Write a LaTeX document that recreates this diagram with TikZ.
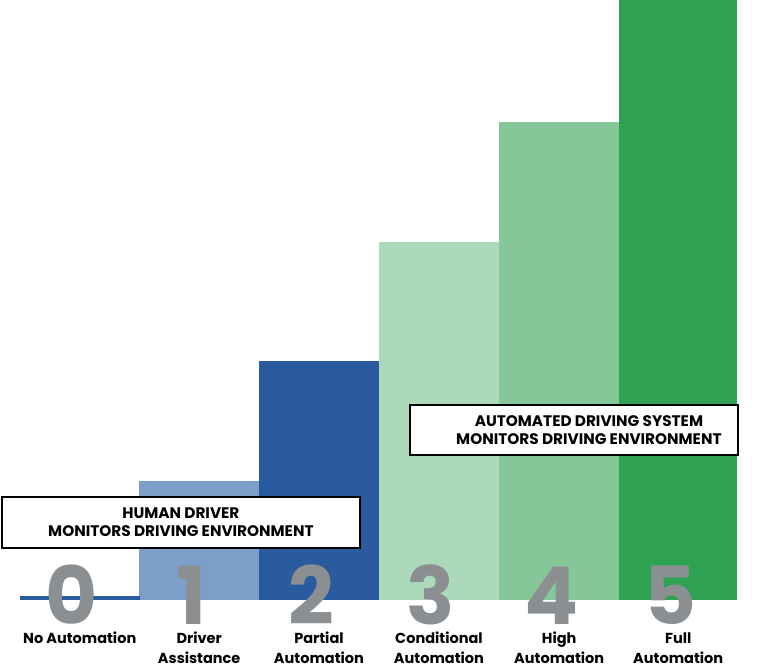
\documentclass[tikz,border=0pt]{standalone}
\usepackage{fontspec}
\setmainfont{Poppins}
\usepackage{tikz}
\usetikzlibrary{positioning}
\definecolor{lvlone}{HTML}{7D9EC8}
\definecolor{lvltwo}{HTML}{2A5B9E}
\definecolor{lvlthree}{HTML}{ADD9BB}
\definecolor{lvlfour}{HTML}{85C799}
\definecolor{lvlfive}{HTML}{2EA152}
\definecolor{levelgrey}{HTML}{8C8F91}

\begin{document}
\begin{tikzpicture}[x=1pt,y=1pt,
  levelbar/.style={inner sep=0pt,anchor=south west},
  leveldigit/.style={text=levelgrey,font=\fontsize{80}{80}\selectfont\bfseries,anchor=base,inner sep=0pt},
  levelname/.style={font=\fontsize{14.5}{20}\selectfont\bfseries,align=center,anchor=base,inner sep=0pt},
  monitorbox/.style={draw=black,line width=1.8pt,fill=white,inner sep=0pt,anchor=south west},
  monitortext/.style={font=\fontsize{15.3}{18}\selectfont\bfseries,align=center,inner sep=0pt}]
\useasboundingbox (0,0) rectangle (768,664);

% bars of levels 1 to 5
\foreach \i/\x/\w/\h/\c in {1/139/120/119/lvlone,2/259/119.5/239/lvltwo,
    3/378.5/120.5/358/lvlthree,4/499/120/478/lvlfour,5/619/118/600/lvlfive}
  \node[levelbar,fill=\c,minimum width=\w pt,minimum height=\h pt] (bar\i) at (\x,64) {};

% level 0 is only a line
\node[levelbar,minimum width=120pt,minimum height=0pt] (bar0) at (19.5,64) {};
\draw[lvltwo,line width=4pt] ([yshift=2pt]bar0.south west) -- ([yshift=2pt]bar0.south east);

% digits and names (base = last line)
\foreach \i/\t/\d in {0/{No Automation}/43,1/{Driver\\Assistance}/63,2/{Partial\\Automation}/63,
    3/{Conditional\\Automation}/63,4/{High\\Automation}/63,5/{Full\\Automation}/63}{
  \node[leveldigit] (digit\i) at ([xshift=-8pt,yshift=-24pt]bar\i.south) {\i};
  \node[levelname] (name\i) at ([yshift=-\d pt]bar\i.south) {\t};
}

% who monitors
\node[monitorbox,minimum width=358pt,minimum height=51pt] (human) at (1,115) {};
\node[monitortext] (humantext) at (human.center) {HUMAN DRIVER\\MONITORS DRIVING ENVIRONMENT};
\node[monitorbox,minimum width=328pt,minimum height=50pt] (ads) at (409,208) {};
\node[monitortext] (adstext) at ([xshift=15pt]ads.center) {AUTOMATED DRIVING SYSTEM\\MONITORS DRIVING ENVIRONMENT};
\end{tikzpicture}
\end{document}
